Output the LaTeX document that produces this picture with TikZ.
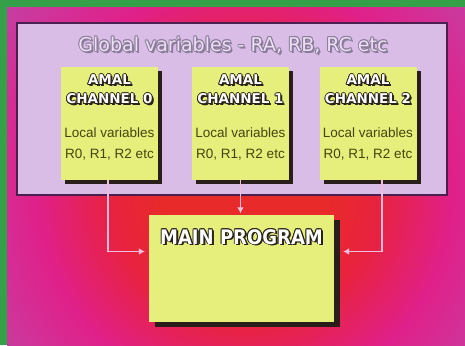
\documentclass[tikz,border=0pt]{standalone}
\usepackage{fontspec}
\setmainfont{Liberation Sans}
\newfontfamily\headfont{DejaVu Sans}
\newfontfamily\mainfont{DejaVu Sans}[FakeStretch=0.9]
\newfontfamily\titlefont{DejaVu Sans}
\usetikzlibrary{shadows,arrows.meta}
\definecolor{cgreen}{HTML}{34A048}
\definecolor{cred}{HTML}{E82A2A}
\definecolor{cred2}{HTML}{E82240}
\definecolor{cmag}{HTML}{E0208A}
\definecolor{cmag2}{HTML}{C83CA0}
\definecolor{cpur}{HTML}{A650B4}
\definecolor{clav}{HTML}{D9BDE6}
\definecolor{cglobb}{HTML}{4A2050}
\definecolor{cyel}{HTML}{E6EE7C}
\definecolor{cshad}{HTML}{2A1E1A}
\definecolor{cbody}{HTML}{46440E}
\definecolor{cline}{HTML}{F2BCDC}
\definecolor{coutl}{HTML}{2A2418}
\definecolor{ctitle}{HTML}{EDE0F4}
\definecolor{ctitleo}{HTML}{8C7C9C}
\pgfdeclareradialshading{glow}{\pgfpoint{0bp}{0bp}}{color(0bp)=(cred); color(8bp)=(cred); color(13bp)=(cred2); color(20bp)=(cmag); color(28bp)=(cmag2); color(36bp)=(cpur); color(50bp)=(cpur)}
% #1 name, #2 coordinate name, #3 style, #4 text, #5 outline colour, #6 fill colour
\newcommand{\embtext}[6]{%
  \foreach \dx/\dy in {-0.9/0,0.9/0,0/0.9,0/-0.9,-0.7/0.7,0.7/-0.7,0.7/0.7,-0.7/-0.7,1.4/-1.4,1.9/-1.9}
    \node[#3, text=#5] at ([shift={(\dx pt,\dy pt)}]#2) {#4};
  \node[#3, text=#6] (#1) at (#2) {#4};}
\begin{document}
\begin{tikzpicture}[x=1pt,y=-1pt,
  chanbox/.style={rectangle, fill=cyel, minimum width=97pt, minimum height=113pt, inner sep=0pt,
    drop shadow={shadow xshift=4pt, shadow yshift=-4pt, opacity=1, fill=cshad}},
  mainbox/.style={rectangle, fill=cyel, minimum width=185pt, minimum height=107pt, inner sep=0pt,
    drop shadow={shadow xshift=6pt, shadow yshift=-5pt, opacity=1, fill=cshad}},
  headtxt/.style={font=\headfont\bfseries\fontsize{13.5}{14}\selectfont, inner sep=0pt},
  maintxt/.style={font=\mainfont\bfseries\fontsize{20}{21}\selectfont, inner sep=0pt},
  bodytxt/.style={font=\fontsize{13.5}{14}\selectfont, text=cbody, inner sep=0pt},
  titletxt/.style={font=\titlefont\fontsize{19}{20}\selectfont, inner sep=0pt},
  conn/.style={draw=cline, line width=1.8pt, -{Latex[length=6pt,width=7pt]}}]
\useasboundingbox (0,0) rectangle (465,345);
% background
\fill[cgreen] (0,0) rectangle (465,345);
\begin{scope}
  \clip (7,8) rectangle (465,345);
  \shade[shading=glow] (-15,-70) rectangle (505,450);
\end{scope}
% global box
\node[rectangle, fill=clav, draw=cglobb, line width=1.5pt, minimum width=430pt, minimum height=172pt, inner sep=0pt] (glob) at (232,109) {};
\coordinate (tpos) at (233,45);
\embtext{title}{tpos}{titletxt}{Global variables - RA, RB, RC etc}{ctitleo}{ctitle}
% channel boxes
\node[chanbox] (ch0) at (109.5,123.5) {};
\node[chanbox] (ch1) at (240.5,123.5) {};
\node[chanbox] (ch2) at (368,123.5) {};
\foreach \n/\k in {ch0/0,ch1/1,ch2/2}{
  \coordinate (pa\k) at ([yshift=-13pt]\n.north);
  \coordinate (pb\k) at ([yshift=-32pt]\n.north);
  \embtext{h\k a}{pa\k}{headtxt}{AMAL}{coutl}{white}
  \embtext{h\k b}{pb\k}{headtxt}{CHANNEL \k}{coutl}{white}
  \node[bodytxt] (l\k a) at ([yshift=-66pt]\n.north) {Local variables};
  \node[bodytxt] (l\k b) at ([yshift=-88pt]\n.north) {R0, R1, R2 etc};
}
% main program
\node[mainbox] (main) at (241.5,268.5) {};
\coordinate (mpos) at ([yshift=-22pt]main.north);
\embtext{mt}{mpos}{maintxt}{MAIN PROGRAM}{coutl}{white}
% connectors
\draw[conn, shorten >=4pt] ([xshift=-1.5pt]ch0.south) |- ([yshift=17pt]main.west);
\draw[conn, shorten >=1.5pt] (ch1.south) -- (ch1.south |- main.north);
\draw[conn, shorten >=9pt] ([xshift=14pt]ch2.south) |- ([yshift=17pt]main.east);
\end{tikzpicture}
\end{document}
